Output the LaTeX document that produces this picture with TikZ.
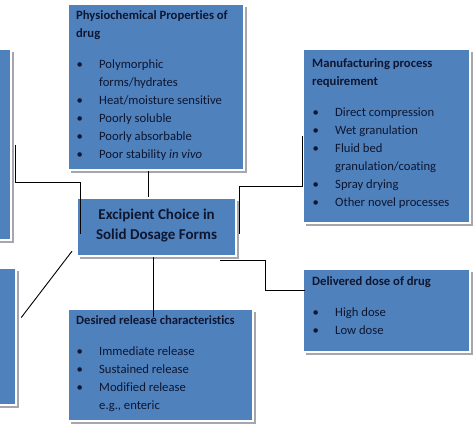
\documentclass[tikz,border=0pt]{standalone}
\usepackage{fontspec}
\setmainfont{Carlito}[Ligatures=NoCommon]
\usepackage{xcolor}
\usetikzlibrary{
    arrows.meta,
    shapes,
    positioning,
    shadows,
    calc
}
\definecolor{boxblue}{RGB}{79,129,189}
\definecolor{boxshade}{RGB}{165,167,172}
\definecolor{boxtext}{RGB}{14,22,48}
\tikzset{
    panel/.style={fill=boxblue, draw=white, line width=2.2pt, inner sep=0pt, anchor=north west,
        drop shadow={shadow xshift=2.8pt, shadow yshift=-2.8pt, fill=boxshade, opacity=1}},
    paneltext/.style={anchor=north west, inner sep=0pt, align=left, text=boxtext,
        font=\fontsize{12.65pt}{18pt}\selectfont},
    link/.style={draw=black, line width=0.9pt}
}
\newcommand{\bul}{\makebox[23pt][l]{\hspace{0.5pt}\textbullet}}
\newcommand{\cont}{\hspace*{23pt}}

\begin{document}
\begin{tikzpicture}[x=1pt, y=-1pt]
                \useasboundingbox (0,0) rectangle (474,427);
                \clip (0,0) rectangle (474,427);
                \node[panel, minimum width=176pt, minimum height=166pt] (phys) at (67,3) {};
                \node[panel, minimum width=70pt, minimum height=191pt] (left1) at (-60,48) {};
                \node[panel, minimum width=75pt, minimum height=137pt] (left2) at (-60,267) {};
                \node[panel, minimum width=167pt, minimum height=174pt] (manuf) at (302,48) {};
                \node[panel, minimum width=167pt, minimum height=83pt] (deliv) at (302,268) {};
                \node[panel, minimum width=185pt, minimum height=112pt] (desired) at (67,308) {};
                \node[panel, minimum width=159pt, minimum height=58pt, align=center, text=boxtext,
                    font=\fontsize{15pt}{20pt}\selectfont\bfseries] (centre) at (76,197)
                    {Excipient Choice in\\Solid Dosage Forms\\[-14pt]};

                \node[paneltext] (physlist) at ([shift={(9pt,-7pt)}]phys.north west)
                    {\textbf{Physiochemical Properties of}\\ \textbf{drug}\\[13pt]
                     \bul Polymorphic\\ \cont forms/hydrates\\
                     \bul Heat/moisture sensitive\\
                     \bul Poorly soluble\\
                     \bul Poorly absorbable\\
                     \bul Poor stability \textit{in vivo}};
                \node[paneltext] (manuflist) at ([shift={(10pt,-10pt)}]manuf.north west)
                    {\textbf{Manufacturing process}\\ \textbf{requirement}\\[13pt]
                     \bul Direct compression\\
                     \bul Wet granulation\\
                     \bul Fluid bed\\ \cont granulation/coating\\
                     \bul Spray drying\\
                     \bul Other novel processes};
                \node[paneltext] (delivlist) at ([shift={(10pt,-8.5pt)}]deliv.north west)
                    {\textbf{Delivered dose of drug}\\[13pt]
                     \bul High dose\\
                     \bul Low dose};
                \node[paneltext] (desiredlist) at ([shift={(9pt,-7.5pt)}]desired.north west)
                    {\textbf{Desired release characteristics}\\[13pt]
                     \bul Immediate release\\
                     \bul Sustained release\\
                     \bul Modified release\\ \cont e.g., enteric};

                \draw[link] ([xshift=-8pt]phys.south) -- ([xshift=-8pt]phys.south |- centre.north);
                \draw[link] ([xshift=3pt]left1.east) -- ++(0,38) -| ($(centre.west)+(4,7)$);
                \draw[link] ([shift={(4pt,19pt)}]left2.east) -- ($(centre.south west)+(-4,-6)$);
                \draw[link] (manuf.west) -- ++(0,50) -| ($(centre.east)+(2,7)$);
                \draw[link] ($(centre.south east)+(-17,3)$) -- ++(45,0) |- ($(deliv.north west)+(3,22)$);
                \draw[link] ([xshift=-3pt]centre.south) -- ($(centre.south |- desired.north)+(-3,9)$);
\end{tikzpicture}
\end{document}
